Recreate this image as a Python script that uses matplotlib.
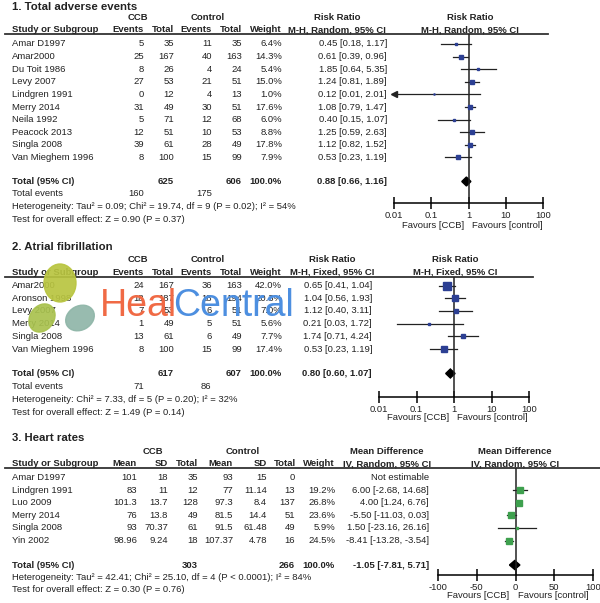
import matplotlib
matplotlib.use("Agg")
import matplotlib.pyplot as plt
from matplotlib.patches import Ellipse

plt.rcParams['font.family'] = ['Liberation Sans', 'DejaVu Sans']

# ---- data: 1. total adverse events ----
ae_study = ['Amar D1997', 'Amar2000', 'Du Toit 1986', 'Levy 2007', 'Lindgren 1991',
            'Merry 2014', 'Neila 1992', 'Peacock 2013', 'Singla 2008', 'Van Mieghem 1996']
ae_ev1 = [5, 25, 8, 27, 0, 31, 5, 12, 39, 8]
ae_n1 = [35, 167, 26, 53, 12, 49, 71, 51, 61, 100]
ae_ev2 = [11, 40, 4, 21, 4, 30, 12, 10, 28, 15]
ae_n2 = [35, 163, 24, 51, 13, 51, 68, 53, 49, 99]
ae_w = [6.4, 14.3, 5.4, 15.0, 1.0, 17.6, 6.0, 8.8, 17.8, 7.9]
ae_rr = [0.45, 0.61, 1.85, 1.24, 0.12, 1.08, 0.40, 1.25, 1.12, 0.53]
ae_lo = [0.18, 0.39, 0.64, 0.81, 0.01, 0.79, 0.15, 0.59, 0.82, 0.23]
ae_hi = [1.17, 0.96, 5.35, 1.89, 2.01, 1.47, 1.07, 2.63, 1.52, 1.19]
ae_tot = (0.88, 0.66, 1.16)

# ---- data: 2. atrial fibrillation ----
af_study = ['Amar2000', 'Aronson 1998', 'Levy 2007', 'Merry 2014', 'Singla 2008', 'Van Mieghem 1996']
af_ev1 = [24, 18, 7, 1, 13, 8]
af_n1 = [167, 187, 53, 49, 61, 100]
af_ev2 = [36, 18, 6, 5, 6, 15]
af_n2 = [163, 194, 51, 51, 49, 99]
af_w = [42.0, 20.3, 7.0, 5.6, 7.7, 17.4]
af_rr = [0.65, 1.04, 1.12, 0.21, 1.74, 0.53]
af_lo = [0.41, 0.56, 0.40, 0.03, 0.71, 0.23]
af_hi = [1.04, 1.93, 3.11, 1.72, 4.24, 1.19]
af_tot = (0.80, 0.60, 1.07)

# ---- data: 3. heart rates ----
hr_study = ['Amar D1997', 'Lindgren 1991', 'Luo 2009', 'Merry 2014', 'Singla 2008', 'Yin 2002']
hr_m1 = ['101', '83', '101.3', '76', '93', '98.96']
hr_sd1 = ['18', '11', '13.7', '13.8', '70.37', '9.24']
hr_n1 = [35, 12, 128, 49, 61, 18]
hr_m2 = ['93', '77', '97.3', '81.5', '91.5', '107.37']
hr_sd2 = ['15', '11.14', '8.4', '14.4', '61.48', '4.78']
hr_n2 = [0, 13, 137, 51, 49, 16]
hr_w = [None, 19.2, 26.8, 23.6, 5.9, 24.5]
hr_md = [None, 6.00, 4.00, -5.50, 1.50, -8.41]
hr_lo = [None, -2.68, 1.24, -11.03, -23.16, -13.28]
hr_hi = [None, 14.68, 6.76, 0.03, 26.16, -3.54]
hr_tot = (-1.05, -7.81, 5.71)

rr_ticks = [0.01, 0.1, 1, 10, 100]
rr_labels = ['0.01', '0.1', '1', '10', '100']
md_ticks = [-100, -50, 0, 50, 100]

W, H = 600, 603
fig = plt.figure(figsize=(6, 6.03), dpi=100)
tax = fig.add_axes([0, 0, 1, 1])
tax.set_xlim(0, W)
tax.set_ylim(H, 0)
tax.axis('off')

FS = 6.8
TFS = 8.2
BLUE = '#2c3f93'
GREEN = '#3ea04e'


def t(x, y, s, ha='left', bold=False, size=FS, **kw):
    tax.text(x, y, s, ha=ha, va='center', fontsize=size,
             fontweight='bold' if bold else 'normal', color='#222222', **kw)


def forest_axes(x0, x1, y0, y1, log=True, lim=(0.01, 100), ticks=rr_ticks, labels=rr_labels):
    ax = fig.add_axes([x0 / W, 1 - y1 / H, (x1 - x0) / W, (y1 - y0) / H])
    if log:
        ax.set_xscale('log')
    ax.set_xlim(*lim)
    ax.set_ylim(y1, y0)
    ax.patch.set_alpha(0)
    for s in ['top', 'left', 'right']:
        ax.spines[s].set_visible(False)
    ax.spines['bottom'].set_linewidth(1.1)
    ax.set_xticks(ticks)
    ax.set_xticklabels(labels)
    ax.minorticks_off()
    ax.set_yticks([])
    ax.tick_params(axis='x', direction='inout', length=8, width=1.1, labelsize=FS, pad=1.5,
                   labelcolor='#222222')
    ax.axvline(1 if log else 0, color='#222222', lw=1.1)
    return ax


def draw_rows(ax, ys, est, lo, hi, w, color, lim, k):
    for y, e, l, h, wt in zip(ys, est, lo, hi, w):
        if e is None:
            continue
        lc = max(l, lim[0])
        ax.plot([lc, h], [y, y], color='#222222', lw=0.9, clip_on=False)
        if l <= lim[0]:
            ax.plot([lim[0]], [y], marker='<', color='#222222', ms=4, clip_on=False)
        ax.plot([e], [y], marker='s', ms=k * wt ** 0.5, color=color, mec=color, clip_on=False)


def diamond(ax, y, tot, hh=4.5):
    e, l, h = tot
    ax.fill([l, e, h, e], [y, y - hh, y, y + hh], color='black', clip_on=False)


# ===================== panel 1 =====================
t(12, 7, '1. Total adverse events', bold=True, size=TFS)
t(138, 18, 'CCB', ha='center', bold=True)
t(208, 18, 'Control', ha='center', bold=True)
t(337, 18, 'Risk Ratio', ha='center', bold=True)
t(470, 18, 'Risk Ratio', ha='center', bold=True)
hy = 29.5
t(12, hy, 'Study or Subgroup', bold=True)
t(144, hy, 'Events', ha='right', bold=True)
t(174, hy, 'Total', ha='right', bold=True)
t(212, hy, 'Events', ha='right', bold=True)
t(242, hy, 'Total', ha='right', bold=True)
t(282, hy, 'Weight', ha='right', bold=True)
t(337, hy, 'M-H, Random, 95% CI', ha='center', bold=True)
t(470, hy, 'M-H, Random, 95% CI', ha='center', bold=True)
tax.plot([5, 548], [33.5, 33.5], color='#333333', lw=1.3)

ys1 = [44 + i * 12.6 for i in range(len(ae_study))]
for i, y in enumerate(ys1):
    t(12, y, ae_study[i])
    t(144, y, str(ae_ev1[i]), ha='right')
    t(174, y, str(ae_n1[i]), ha='right')
    t(212, y, str(ae_ev2[i]), ha='right')
    t(242, y, str(ae_n2[i]), ha='right')
    t(282, y, f'{ae_w[i]:.1f}%', ha='right')
    t(387, y, f'{ae_rr[i]:.2f} [{ae_lo[i]:.2f}, {ae_hi[i]:.2f}]', ha='right')
ty = 181.5
t(12, ty, 'Total (95% CI)', bold=True)
t(174, ty, str(sum(ae_n1)), ha='right', bold=True)
t(242, ty, str(sum(ae_n2)), ha='right', bold=True)
t(282, ty, '100.0%', ha='right', bold=True)
t(387, ty, f'{ae_tot[0]:.2f} [{ae_tot[1]:.2f}, {ae_tot[2]:.2f}]', ha='right', bold=True)
t(12, 194, 'Total events')
t(144, 194, str(sum(ae_ev1)), ha='right')
t(212, 194, str(sum(ae_ev2)), ha='right')
t(12, 206.5, 'Heterogeneity: Tau\u00b2 = 0.09; Chi\u00b2 = 19.74, df = 9 (P = 0.02); I\u00b2 = 54%')
t(12, 219, 'Test for overall effect: Z = 0.90 (P = 0.37)')

ax1 = forest_axes(394, 543, 33.5, 203)
draw_rows(ax1, ys1, ae_rr, ae_lo, ae_hi, ae_w, BLUE, (0.01, 100), 0.8)
diamond(ax1, ty, ae_tot)
t(433, 225.5, 'Favours [CCB]', ha='center')
t(507, 225.5, 'Favours [control]', ha='center')

# ===================== panel 2 =====================
t(12, 247, '2. Atrial fibrillation', bold=True, size=TFS)
t(138, 260, 'CCB', ha='center', bold=True)
t(208, 260, 'Control', ha='center', bold=True)
t(332, 260, 'Risk Ratio', ha='center', bold=True)
t(455, 260, 'Risk Ratio', ha='center', bold=True)
hy = 272.5
t(12, hy, 'Study or Subgroup', bold=True)
t(144, hy, 'Events', ha='right', bold=True)
t(174, hy, 'Total', ha='right', bold=True)
t(212, hy, 'Events', ha='right', bold=True)
t(242, hy, 'Total', ha='right', bold=True)
t(282, hy, 'Weight', ha='right', bold=True)
t(332, hy, 'M-H, Fixed, 95% CI', ha='center', bold=True)
t(455, hy, 'M-H, Fixed, 95% CI', ha='center', bold=True)
tax.plot([5, 533], [276.5, 276.5], color='#333333', lw=1.3)

ys2 = [285.5 + i * 12.7 for i in range(len(af_study))]
for i, y in enumerate(ys2):
    t(12, y, af_study[i])
    t(144, y, str(af_ev1[i]), ha='right')
    t(174, y, str(af_n1[i]), ha='right')
    t(212, y, str(af_ev2[i]), ha='right')
    t(242, y, str(af_n2[i]), ha='right')
    t(282, y, f'{af_w[i]:.1f}%', ha='right')
    t(372, y, f'{af_rr[i]:.2f} [{af_lo[i]:.2f}, {af_hi[i]:.2f}]', ha='right')
ty = 373.5
t(12, ty, 'Total (95% CI)', bold=True)
t(174, ty, str(sum(af_n1)), ha='right', bold=True)
t(242, ty, str(sum(af_n2)), ha='right', bold=True)
t(282, ty, '100.0%', ha='right', bold=True)
t(372, ty, f'{af_tot[0]:.2f} [{af_tot[1]:.2f}, {af_tot[2]:.2f}]', ha='right', bold=True)
t(12, 386.5, 'Total events')
t(144, 386.5, str(sum(af_ev1)), ha='right')
t(211, 386.5, str(sum(af_ev2)), ha='right')
t(12, 399.5, 'Heterogeneity: Chi\u00b2 = 7.33, df = 5 (P = 0.20); I\u00b2 = 32%')
t(12, 412.5, 'Test for overall effect: Z = 1.49 (P = 0.14)')

ax2 = forest_axes(379, 529, 276.5, 397)
draw_rows(ax2, ys2, af_rr, af_lo, af_hi, af_w, BLUE, (0.01, 100), 0.9)
diamond(ax2, ty, af_tot)
t(418, 417.5, 'Favours [CCB]', ha='center')
t(492, 417.5, 'Favours [control]', ha='center')

# ===================== panel 3 =====================
t(12, 438, '3. Heart rates', bold=True, size=TFS)
t(153, 452, 'CCB', ha='center', bold=True)
t(243, 452, 'Control', ha='center', bold=True)
t(387, 452, 'Mean Difference', ha='center', bold=True)
t(515, 452, 'Mean Difference', ha='center', bold=True)
hy = 464
t(12, hy, 'Study or Subgroup', bold=True)
t(137, hy, 'Mean', ha='right', bold=True)
t(168, hy, 'SD', ha='right', bold=True)
t(198, hy, 'Total', ha='right', bold=True)
t(233, hy, 'Mean', ha='right', bold=True)
t(267, hy, 'SD', ha='right', bold=True)
t(296, hy, 'Total', ha='right', bold=True)
t(335, hy, 'Weight', ha='right', bold=True)
t(387, hy, 'IV, Random, 95% CI', ha='center', bold=True)
t(515, hy, 'IV, Random, 95% CI', ha='center', bold=True)
tax.plot([5, 600], [467.5, 467.5], color='#333333', lw=1.3)

ys3 = [477.5 + i * 12.6 for i in range(len(hr_study))]
for i, y in enumerate(ys3):
    t(12, y, hr_study[i])
    t(137, y, hr_m1[i], ha='right')
    t(168, y, hr_sd1[i], ha='right')
    t(198, y, str(hr_n1[i]), ha='right')
    t(233, y, hr_m2[i], ha='right')
    t(267, y, hr_sd2[i], ha='right')
    t(295, y, str(hr_n2[i]), ha='right')
    if hr_md[i] is None:
        t(429, y, 'Not estimable', ha='right')
    else:
        t(335, y, f'{hr_w[i]:.1f}%', ha='right')
        t(429, y, f'{hr_md[i]:.2f} [{hr_lo[i]:.2f}, {hr_hi[i]:.2f}]', ha='right')
ty = 565
t(12, ty, 'Total (95% CI)', bold=True)
t(198, ty, str(sum(hr_n1)), ha='right', bold=True)
t(295, ty, str(sum(hr_n2)), ha='right', bold=True)
t(335, ty, '100.0%', ha='right', bold=True)
t(429, ty, f'{hr_tot[0]:.2f} [{hr_tot[1]:.2f}, {hr_tot[2]:.2f}]', ha='right', bold=True)
t(12, 577, 'Heterogeneity: Tau\u00b2 = 42.41; Chi\u00b2 = 25.10, df = 4 (P < 0.0001); I\u00b2 = 84%')
t(12, 589.5, 'Test for overall effect: Z = 0.30 (P = 0.76)')

ax3 = forest_axes(438, 593, 467.5, 575, log=False, lim=(-100, 100),
                  ticks=md_ticks, labels=[str(v) for v in md_ticks])
draw_rows(ax3, ys3, hr_md, hr_lo, hr_hi, [w or 0 for w in hr_w], GREEN, (-100, 100), 0.85)
diamond(ax3, ty, hr_tot)
t(478, 595.5, 'Favours [CCB]', ha='center')
t(553, 595.5, 'Favours [control]', ha='center')

# ---- watermark (site logo over the table) ----
for (cx, cy, ww, hh, ang, col) in [(60, 283, 32, 38, 0, '#b9c540'),
                                   (42, 318, 24, 30, 35, '#a9c24e'),
                                   (80, 318, 30, 24, -30, '#8fb6a8')]:
    tax.add_patch(Ellipse((cx, cy), ww, hh, angle=ang, color=col, alpha=0.92, zorder=5))
tax.text(100, 306, 'Heal', fontsize=27, color='#f06a45', va='center', ha='left', zorder=6)
tax.text(173, 306, 'Central', fontsize=27, color='#4d8fe0', va='center', ha='left', zorder=6)

fig.savefig('out.png', dpi=100)
